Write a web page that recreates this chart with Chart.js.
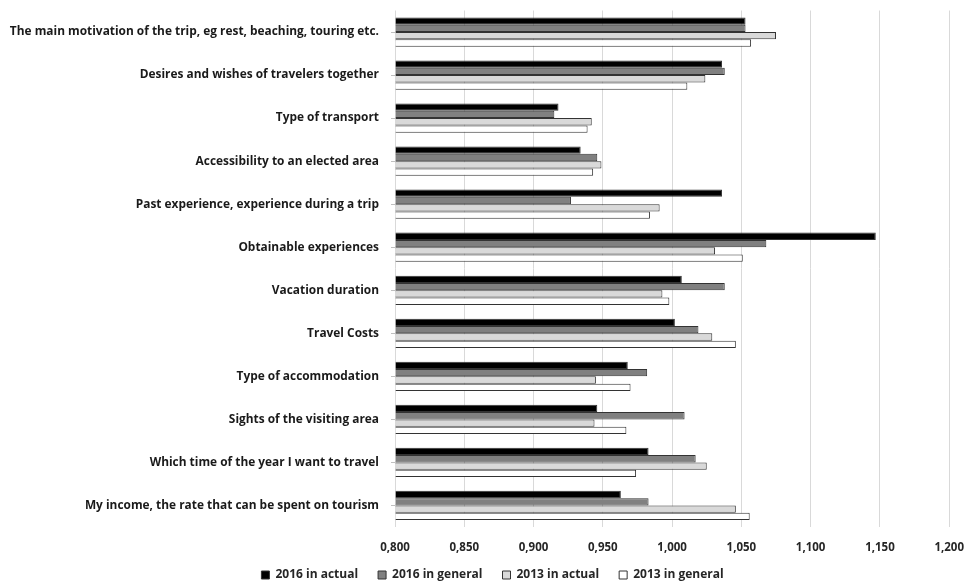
<!DOCTYPE html>
<html>
<head>
<meta charset="utf-8">
<script src="https://cdn.jsdelivr.net/npm/chart.js@4/dist/chart.umd.min.js"></script>
<style>
  html, body { margin: 0; padding: 0; background: #ffffff; }
  #wrap { width: 971px; height: 582px; position: relative; }
</style>
</head>
<body>
<div id="wrap"><canvas id="c" width="971" height="582"></canvas></div>
<script>
// Factors influencing travel decisions, mean scores per survey wave
const categories = [
  "The main motivation of the trip, eg rest, beaching, touring etc.",
  "Desires and wishes of travelers together",
  "Type of transport",
  "Accessibility to an elected area",
  "Past experience, experience during a trip",
  "Obtainable experiences",
  "Vacation duration",
  "Travel Costs",
  "Type of accommodation",
  "Sights of the visiting area",
  "Which time of the year I want to travel",
  "My income, the rate that can be spent on tourism"
];

const seriesNames = ["2016 in actual", "2016 in general", "2013 in actual", "2013 in general"];

const actual2016  = [1.053, 1.036, 0.918, 0.934, 1.036, 1.147, 1.007, 1.002, 0.968, 0.946, 0.983, 0.963];
const general2016 = [1.053, 1.038, 0.915, 0.946, 0.927, 1.068, 1.038, 1.019, 0.982, 1.009, 1.017, 0.983];
const actual2013  = [1.075, 1.024, 0.942, 0.949, 0.991, 1.031, 0.993, 1.029, 0.945, 0.944, 1.025, 1.046];
const general2013 = [1.057, 1.011, 0.939, 0.943, 0.984, 1.051, 0.998, 1.046, 0.970, 0.967, 0.974, 1.056];

const axisMin = 0.8;
const axisMax = 1.2;
const axisStep = 0.05;

const fills = ["#000000", "#808080", "#d9d9d9", "#ffffff"];
const FONT = "'Open Sans', Lato, sans-serif";

const values = [actual2016, general2016, actual2013, general2013];

const datasets = values.map((v, i) => ({
  label: seriesNames[i],
  data: v,
  base: axisMin,
  backgroundColor: fills[i],
  borderColor: "#333333",
  borderWidth: 1,
  borderSkipped: "start",
  barPercentage: 1.0,
  categoryPercentage: 0.68
}));

const fmt = v => v.toFixed(3).replace(".", ",");

// lift the legend up under the axis labels and centre it under the plot
const legendNudge = {
  id: "legendNudge",
  afterLayout(chart) {
    const lg = chart.legend;
    if (lg) {
      lg.top -= 6; lg.bottom -= 6;
      lg.left += 12; lg.right += 12;
    }
  }
};

new Chart(document.getElementById("c"), {
  type: "bar",
  data: { labels: categories, datasets: datasets },
  plugins: [legendNudge],
  options: {
    indexAxis: "y",
    responsive: false,
    animation: false,
    layout: { padding: { top: 10.5, right: 10, bottom: -15, left: 0 } },
    plugins: {
      tooltip: { enabled: false },
      legend: {
        position: "bottom",
        labels: {
          boxWidth: 8,
          boxHeight: 8,
          padding: 20,
          color: "#262626",
          font: { family: FONT, size: 12, weight: "bold" },
          generateLabels: chart => chart.data.datasets.map((d, i) => ({
            text: d.label,
            fillStyle: d.backgroundColor,
            strokeStyle: "#333333",
            lineWidth: 1,
            datasetIndex: i,
            fontColor: "#262626"
          }))
        }
      }
    },
    scales: {
      x: {
        type: "linear",
        min: axisMin,
        max: axisMax,
        ticks: {
          stepSize: axisStep,
          callback: v => fmt(v),
          color: "#262626",
          padding: 7,
          font: { family: FONT, size: 11.5, weight: "bold" }
        },
        grid: { color: "#d9d9d9", lineWidth: 1, drawTicks: true, tickLength: 7, tickColor: "rgba(0,0,0,0)" },
        border: { display: false },
        afterFit: scale => { scale.height = 28; }
      },
      y: {
        type: "category",
        ticks: {
          color: "#1a1a1a",
          padding: 0,
          font: { family: FONT, size: 11.9, weight: "bold" }
        },
        grid: {
          display: true, drawOnChartArea: false, offset: false,
          tickLength: 16, tickColor: "#bfbfbf", tickBorderDash: [0, 12, 4, 0]
        },
        border: { display: false },
        afterFit: scale => { scale.width = 395; }
      }
    }
  }
});
</script>
</body>
</html>
